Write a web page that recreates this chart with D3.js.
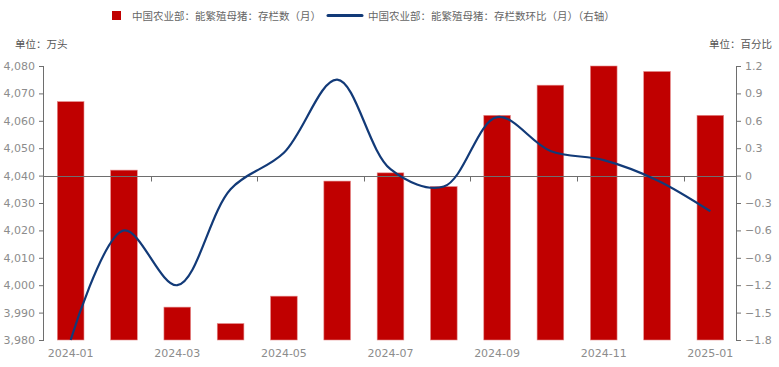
<!DOCTYPE html>
<html><head><meta charset="utf-8">
<script src="https://cdn.jsdelivr.net/npm/d3@7"></script>
<style>body{margin:0;background:#fff}svg{display:block}</style>
</head><body>
<svg id="c" width="779" height="367"></svg>
<script>
const categories = ["2024-01","2024-02","2024-03","2024-04","2024-05","2024-06","2024-07","2024-08","2024-09","2024-10","2024-11","2024-12","2025-01"];
const stockValues = [4067,4042,3992,3986,3996,4038,4041,4036,4062,4073,4080,4078,4062];
const momValues = [-1.8,-0.6,-1.2,-0.15,0.25,1.05,0.07,-0.12,0.64,0.27,0.17,-0.05,-0.39];
const leftTicks = [3980,3990,4000,4010,4020,4030,4040,4050,4060,4070,4080];
const rightTicks = [-1.8,-1.5,-1.2,-0.9,-0.6,-0.3,0,0.3,0.6,0.9,1.2];
const seriesNames = ["中国农业部：能繁殖母猪：存栏数（月）","中国农业部：能繁殖母猪：存栏数环比（月）（右轴）"];
const unitLeft = "单位：万头", unitRight = "单位：百分比";

const svg = d3.select("#c");
const L = 44, R = 737, T = 66, B = 340;
const font = "'Noto Sans CJK SC','Noto Sans',sans-serif";
const gray = "#8c8c8c", axisCol = "#6e6e6e";
const red = "#c00000", blue = "#123a78";

const x = d3.scaleBand().domain(categories).range([L, R]).paddingInner(0.5).paddingOuter(0.25);
const yL = d3.scaleLinear().domain([3980, 4080]).range([B, T]);
const yR = d3.scaleLinear().domain([-1.8, 1.2]).range([B, T]);

// bars
svg.append("g").selectAll("rect").data(stockValues).join("rect")
  .attr("x", (d,i) => x(categories[i]))
  .attr("width", x.bandwidth())
  .attr("y", d => yL(d))
  .attr("height", d => yL(3980) - yL(d))
  .attr("fill", red)
  .attr("stroke", "#e48a8a").attr("stroke-width", 0.6);

// left axis
const gl = svg.append("g").attr("transform", `translate(${L},0)`)
  .call(d3.axisLeft(yL).tickValues(leftTicks).tickSize(5).tickPadding(4).tickFormat(d3.format(",")));
gl.select(".domain").attr("stroke", axisCol).attr("d", `M-0.5,${T}V${B}`);
gl.selectAll(".tick line").attr("stroke", axisCol);
gl.selectAll("text").attr("fill", gray).style("font-family", "'DejaVu Sans',sans-serif").style("font-size", "11px");

// right axis
const gr = svg.append("g").attr("transform", `translate(${R - 1},0)`)
  .call(d3.axisRight(yR).tickValues(rightTicks).tickSize(5).tickPadding(4).tickFormat(d => d === 0 ? "0" : d3.format(".1f")(d)));
gr.select(".domain").attr("stroke", axisCol).attr("d", `M0.5,${T}V${B}`);
gr.selectAll(".tick line").attr("stroke", axisCol);
gr.selectAll("text").attr("fill", gray).style("font-family", "'DejaVu Sans',sans-serif").style("font-size", "11px");

// category axis at zero / 4040
const y0 = Math.round(yR(0)) + 0.5;
svg.append("line").attr("x1", L).attr("x2", R).attr("y1", y0).attr("y2", y0).attr("stroke", axisCol);
const step = x.step();
const x0 = x(categories[0]) - x.paddingOuter()*step - (x.paddingInner()*step)/2;
categories.forEach((c, i) => {
  if (i > 0 && i % 2 === 0) {
    const bx = Math.round(x(c) - (step - x.bandwidth())/2) + 0.5;
    svg.append("line").attr("x1", bx).attr("x2", bx).attr("y1", y0).attr("y2", y0 + 5).attr("stroke", axisCol);
  }
  if (i % 2 === 0) {
    svg.append("text").attr("x", x(c) + x.bandwidth()/2).attr("y", 357)
      .attr("text-anchor", "middle").attr("fill", gray)
      .style("font-family", "'DejaVu Sans',sans-serif").style("font-size", "11px").text(c);
  }
});

// line
const line = d3.line()
  .x((d,i) => x(categories[i]) + x.bandwidth()/2)
  .y(d => yR(d))
  .curve(d3.curveCatmullRom.alpha(0.5));
svg.append("path").datum(momValues).attr("d", line)
  .attr("fill", "none").attr("stroke", blue).attr("stroke-width", 2.2);

// units
svg.append("text").attr("x", 15).attr("y", 48).attr("fill", "#555")
  .style("font-family", font).style("font-size", "10.5px").text(unitLeft);
svg.append("text").attr("x", 772).attr("y", 48).attr("text-anchor", "end").attr("fill", "#555")
  .style("font-family", font).style("font-size", "10.5px").text(unitRight);

// legend
svg.append("rect").attr("x", 112).attr("y", 11).attr("width", 9).attr("height", 9).attr("fill", red);
svg.append("text").attr("x", 132).attr("y", 20).attr("fill", "#666")
  .style("font-family", font).style("font-size", "10.5px").text(seriesNames[0]);
svg.append("line").attr("x1", 328).attr("x2", 362).attr("y1", 15.5).attr("y2", 15.5)
  .attr("stroke", blue).attr("stroke-width", 3).attr("stroke-linecap", "round");
svg.append("text").attr("x", 368).attr("y", 20).attr("fill", "#666")
  .style("font-family", font).style("font-size", "10.5px").text(seriesNames[1]);
</script>
</body></html>
